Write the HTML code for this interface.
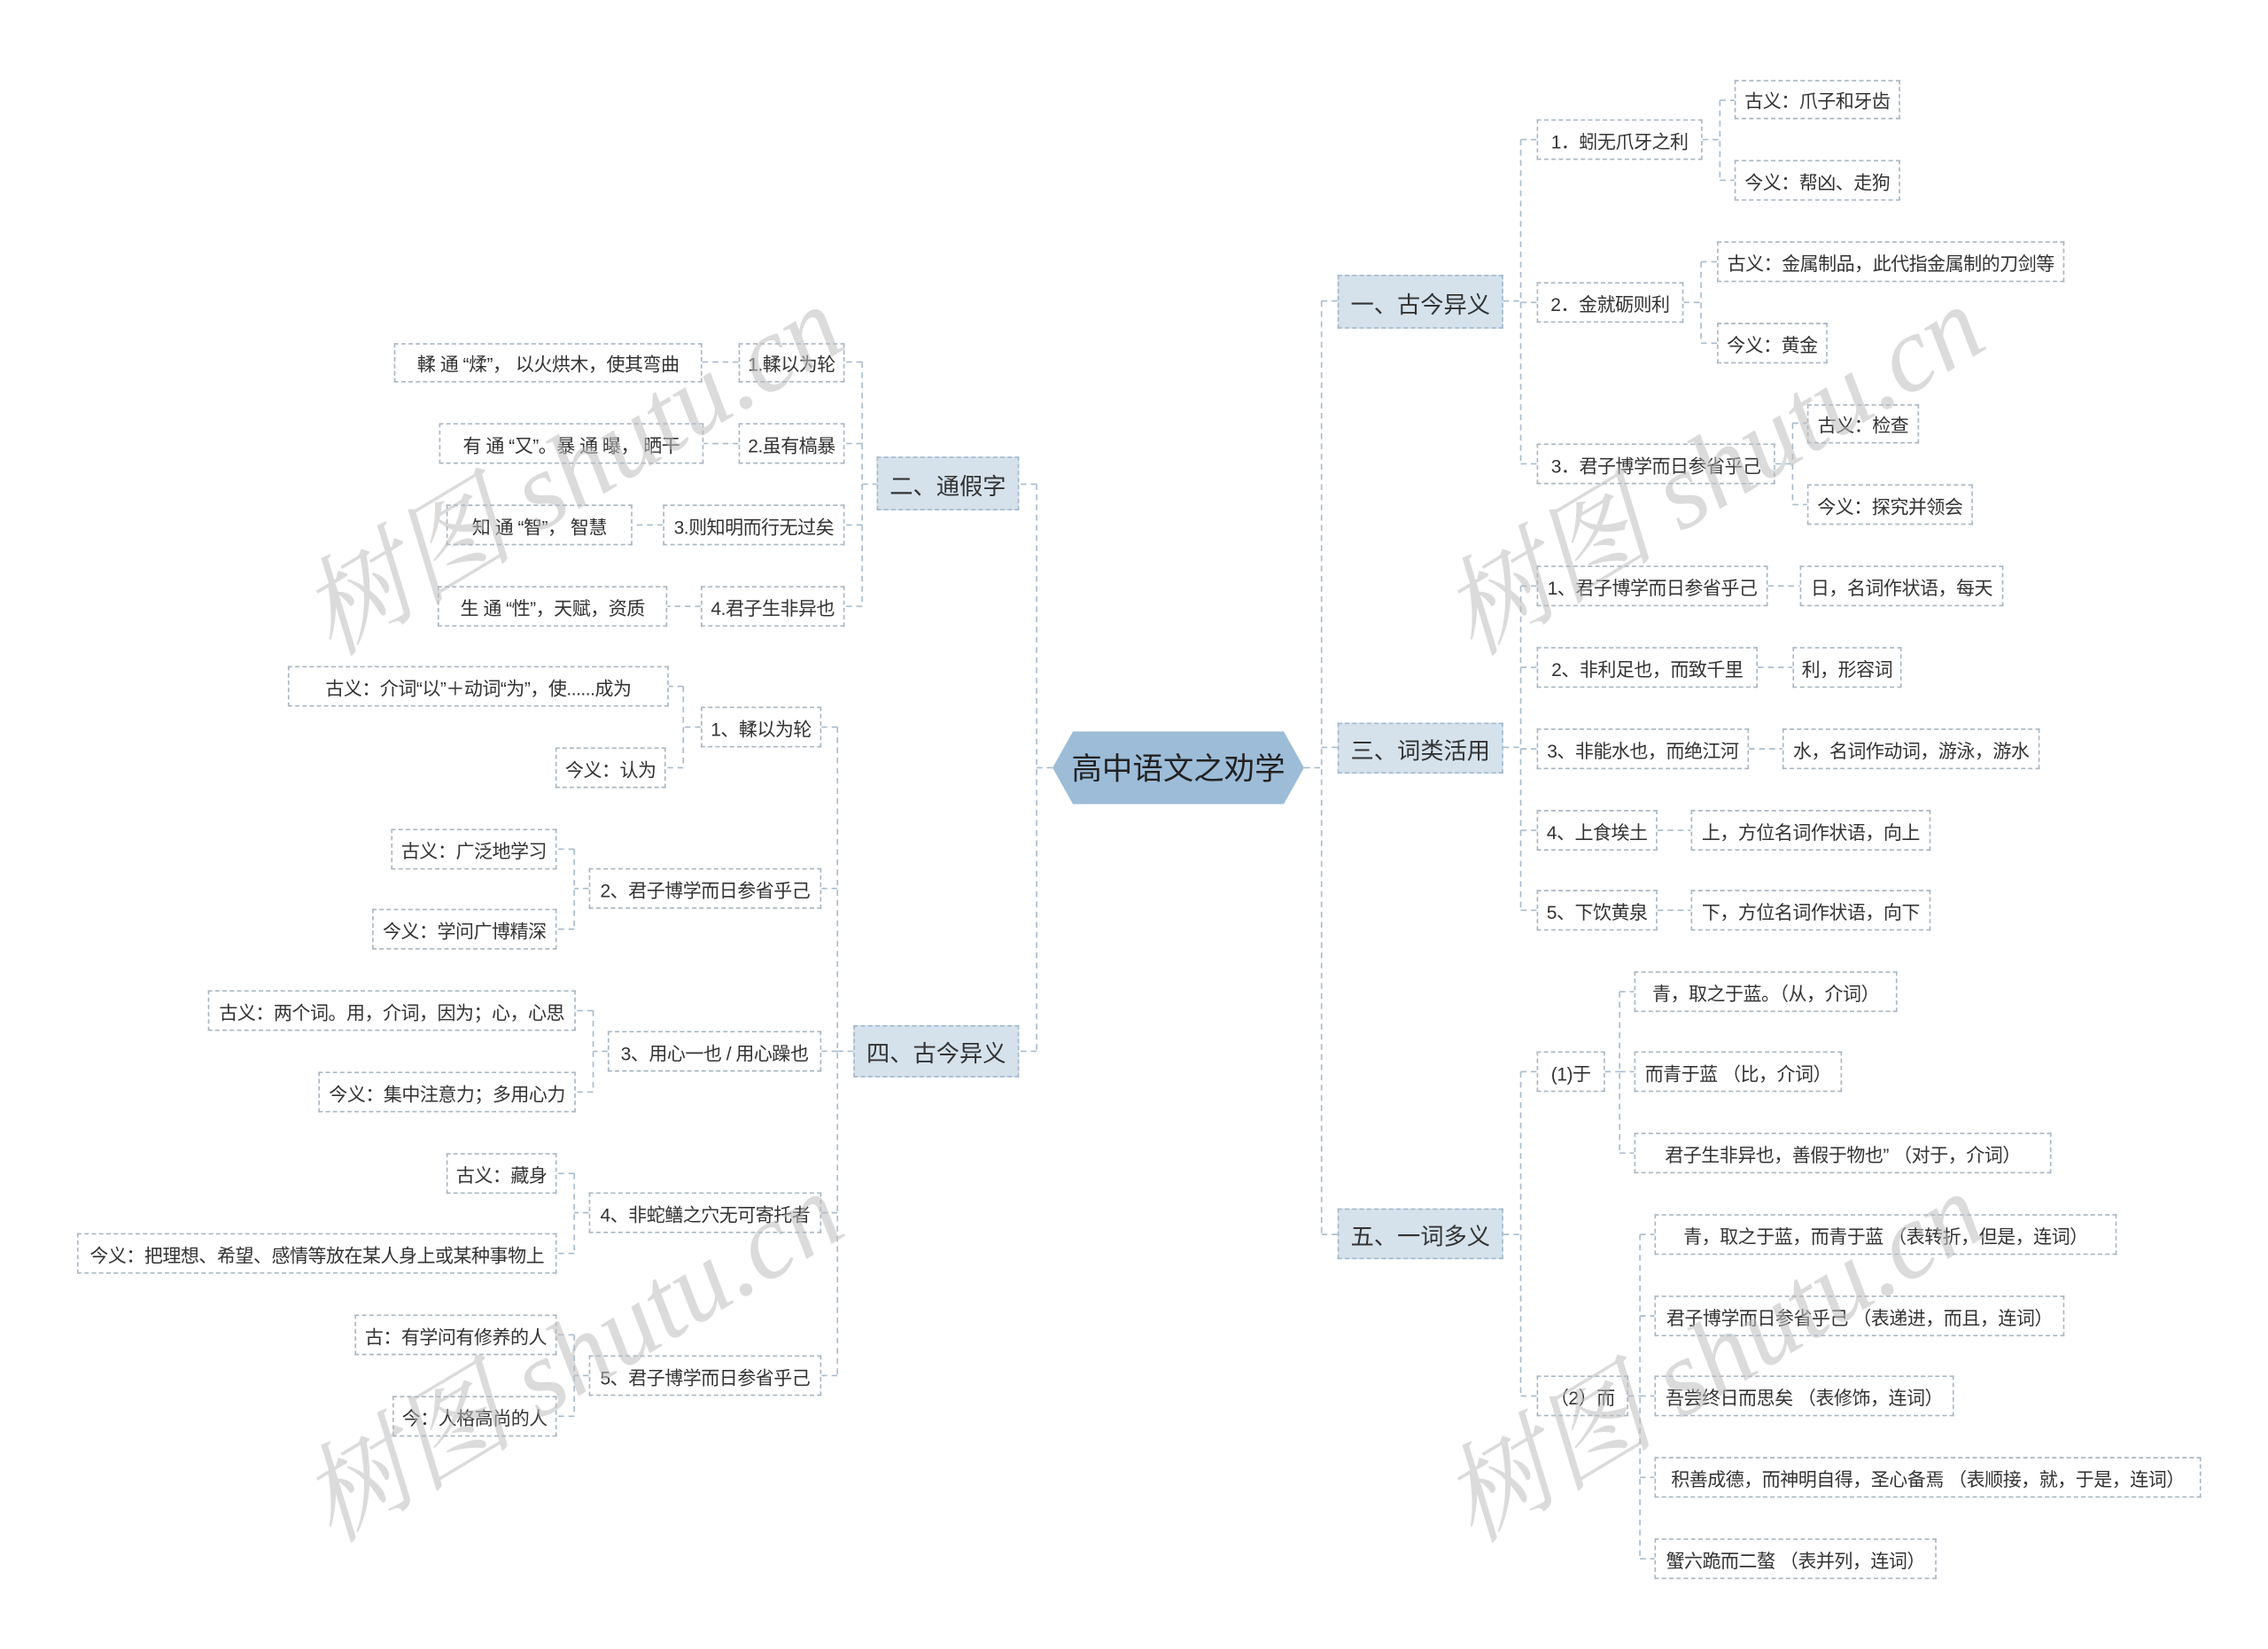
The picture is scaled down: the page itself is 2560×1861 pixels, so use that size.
<!DOCTYPE html>
<html><head><meta charset="utf-8">
<style>
html,body{margin:0;padding:0;background:#fff;}
body{width:2560px;height:1861px;overflow:hidden;position:relative;}
#c{position:absolute;left:0;top:0;width:1560px;height:1134px;transform:scale(1.64103);transform-origin:0 0;}
.n{position:absolute;box-sizing:border-box;border:1px dashed #a9b6c2;background:#fff;font-family:"Liberation Sans","Noto Sans CJK SC",sans-serif;font-size:12.8px;color:#333;display:flex;align-items:center;justify-content:center;white-space:nowrap;letter-spacing:-0.3px;}
.m{position:absolute;box-sizing:border-box;border:1px dashed #a3b9cc;background:#d5e2ec;font-family:"Liberation Sans","Noto Sans CJK SC",sans-serif;font-size:16px;color:#333;display:flex;align-items:center;justify-content:center;white-space:nowrap;}
.wm{position:absolute;font-family:"Liberation Serif","Noto Serif CJK SC",serif;font-style:italic;font-size:74px;color:rgba(190,190,190,0.55);transform:rotate(-31deg);white-space:nowrap;transform-origin:0 0;}
svg{position:absolute;left:0;top:0;}
</style></head><body><div id="c">
<svg width="1560" height="1134" fill="none" stroke="#a7bccf" stroke-width="1" stroke-dasharray="4,3">
<path d="M897 528H909M909 207V849M909 207H920M909 514H920M909 849H920"/>
<path d="M724 528H713M713 333V723M713 333H701M713 723H701"/>
<path d="M1034 207H1046M1046 96V319M1046 96H1057M1046 208H1057M1046 319H1057"/>
<path d="M1171 96H1183M1183 69V124M1183 69H1193M1183 124H1193"/>
<path d="M1158 208H1170M1170 180V236M1170 180H1181M1170 236H1181"/>
<path d="M1221 319H1233M1233 291V347M1233 291H1243M1233 347H1243"/>
<path d="M1034 514H1046M1046 403V626M1046 403H1057M1046 459H1057M1046 515H1057M1046 571H1057M1046 626H1057"/>
<path d="M1216 403H1238M1209 459H1233M1203 515H1226M1140 571H1163M1140 626H1163"/>
<path d="M1034 849H1046M1046 737V960M1046 737H1057M1046 960H1057"/>
<path d="M1104 737H1114M1114 682V793M1114 682H1124M1114 737H1124M1114 793H1124"/>
<path d="M1120 960H1128M1128 849V1072M1128 849H1138M1128 905H1138M1128 960H1138M1128 1016H1138M1128 1072H1138"/>
<path d="M604 333H593M593 249V417M593 249H581M593 305H581M593 361H581M593 417H581"/>
<path d="M508 249H483M508 305H484M456 361H435M482 417H459"/>
<path d="M587 723H576M576 500V946M576 500H565M576 611H565M576 723H565M576 834H565M576 946H565"/>
<path d="M482 500H470M470 472V528M470 472H460M470 528H458"/>
<path d="M405 611H395M395 584V639M395 584H383M395 639H383"/>
<path d="M418 723H408M408 695V751M408 695H396M408 751H396"/>
<path d="M405 834H395M395 807V862M395 807H383M395 862H383"/>
<path d="M405 946H395M395 918V974M395 918H383M395 974H383"/>
</svg>
<svg width="1560" height="1134"><polygon points="724,528 738,503 883,503 897,528 883,553 738,553" fill="#9dbcd8"/>
<text x="810.5" y="536" text-anchor="middle" font-family="Liberation Sans,Noto Sans CJK SC,sans-serif" font-size="21" fill="#222">高中语文之劝学</text></svg>

<div class="m" style="left:920px;top:189px;width:114px;height:37px">一、古今异义</div>
<div class="m" style="left:920px;top:497px;width:114px;height:35px">三、词类活用</div>
<div class="m" style="left:920px;top:831px;width:114px;height:35px">五、一词多义</div>
<div class="m" style="left:603px;top:314px;width:98px;height:37px">二、通假字</div>
<div class="m" style="left:587px;top:705px;width:114px;height:36px">四、古今异义</div>

<div class="n" style="left:1057px;top:82px;width:114px;height:28px">1．蚓无爪牙之利</div>
<div class="n" style="left:1193px;top:55px;width:114px;height:27px">古义：爪子和牙齿</div>
<div class="n" style="left:1193px;top:110px;width:114px;height:28px">今义：帮凶、走狗</div>
<div class="n" style="left:1057px;top:194px;width:101px;height:28px">2．金就砺则利</div>
<div class="n" style="left:1181px;top:166px;width:239px;height:28px">古义：金属制品，此代指金属制的刀剑等</div>
<div class="n" style="left:1181px;top:222px;width:76px;height:28px">今义：黄金</div>
<div class="n" style="left:1057px;top:305px;width:164px;height:28px">3．君子博学而日参省乎己</div>
<div class="n" style="left:1243px;top:278px;width:77px;height:27px">古义：检查</div>
<div class="n" style="left:1243px;top:333px;width:114px;height:28px">今义：探究并领会</div>

<div class="n" style="left:1057px;top:389px;width:159px;height:28px">1、君子博学而日参省乎己</div>
<div class="n" style="left:1238px;top:389px;width:140px;height:28px">日，名词作状语，每天</div>
<div class="n" style="left:1057px;top:445px;width:152px;height:28px">2、非利足也，而致千里</div>
<div class="n" style="left:1233px;top:445px;width:75px;height:28px">利，形容词</div>
<div class="n" style="left:1057px;top:501px;width:146px;height:28px">3、非能水也，而绝江河</div>
<div class="n" style="left:1226px;top:501px;width:177px;height:28px">水，名词作动词，游泳，游水</div>
<div class="n" style="left:1057px;top:557px;width:83px;height:28px">4、上食埃土</div>
<div class="n" style="left:1163px;top:557px;width:165px;height:28px">上，方位名词作状语，向上</div>
<div class="n" style="left:1057px;top:612px;width:83px;height:28px">5、下饮黄泉</div>
<div class="n" style="left:1163px;top:612px;width:165px;height:28px">下，方位名词作状语，向下</div>

<div class="n" style="left:1057px;top:723px;width:47px;height:28px">(1)于</div>
<div class="n" style="left:1124px;top:668px;width:181px;height:28px">青，取之于蓝。（从，介词）</div>
<div class="n" style="left:1124px;top:723px;width:143px;height:28px">而青于蓝 （比，介词）</div>
<div class="n" style="left:1124px;top:779px;width:287px;height:28px">君子生非异也，善假于物也” （对于，介词）</div>
<div class="n" style="left:1057px;top:946px;width:63px;height:28px">（2）而</div>
<div class="n" style="left:1138px;top:835px;width:318px;height:28px">青，取之于蓝，而青于蓝 （表转折，但是，连词）</div>
<div class="n" style="left:1138px;top:891px;width:282px;height:28px">君子博学而日参省乎己 （表递进，而且，连词）</div>
<div class="n" style="left:1138px;top:946px;width:206px;height:28px">吾尝终日而思矣 （表修饰，连词）</div>
<div class="n" style="left:1138px;top:1002px;width:376px;height:28px">积善成德，而神明自得，圣心备焉 （表顺接，就，于是，连词）</div>
<div class="n" style="left:1138px;top:1058px;width:194px;height:28px">蟹六跪而二螯 （表并列，连词）</div>

<div class="n" style="left:508px;top:236px;width:73px;height:27px">1.輮以为轮</div>
<div class="n" style="left:271px;top:236px;width:212px;height:27px">輮 通 “煣”， 以火烘木，使其弯曲</div>
<div class="n" style="left:508px;top:291px;width:73px;height:28px">2.虽有槁暴</div>
<div class="n" style="left:302px;top:291px;width:182px;height:28px">有 通 “又”。暴 通 曝， 晒干</div>
<div class="n" style="left:456px;top:347px;width:125px;height:28px">3.则知明而行无过矣</div>
<div class="n" style="left:307px;top:347px;width:128px;height:28px">知 通 “智”， 智慧</div>
<div class="n" style="left:482px;top:403px;width:99px;height:28px">4.君子生非异也</div>
<div class="n" style="left:301px;top:403px;width:158px;height:28px">生 通 “性”，天赋，资质</div>

<div class="n" style="left:482px;top:486px;width:83px;height:28px">1、輮以为轮</div>
<div class="n" style="left:198px;top:458px;width:262px;height:28px">古义：介词“以”＋动词“为”，使......成为</div>
<div class="n" style="left:382px;top:514px;width:76px;height:28px">今义：认为</div>
<div class="n" style="left:405px;top:597px;width:160px;height:28px">2、君子博学而日参省乎己</div>
<div class="n" style="left:269px;top:570px;width:114px;height:28px">古义：广泛地学习</div>
<div class="n" style="left:256px;top:625px;width:127px;height:28px">今义：学问广博精深</div>
<div class="n" style="left:418px;top:709px;width:147px;height:28px">3、用心一也 / 用心躁也</div>
<div class="n" style="left:143px;top:681px;width:253px;height:28px">古义：两个词。用，介词，因为；心，心思</div>
<div class="n" style="left:219px;top:737px;width:177px;height:28px">今义：集中注意力；多用心力</div>
<div class="n" style="left:405px;top:820px;width:160px;height:28px">4、非蛇鳝之穴无可寄托者</div>
<div class="n" style="left:307px;top:793px;width:76px;height:28px">古义：藏身</div>
<div class="n" style="left:53px;top:848px;width:330px;height:28px">今义：把理想、希望、感情等放在某人身上或某种事物上</div>
<div class="n" style="left:405px;top:932px;width:160px;height:28px">5、君子博学而日参省乎己</div>
<div class="n" style="left:244px;top:904px;width:139px;height:28px">古：有学问有修养的人</div>
<div class="n" style="left:270px;top:960px;width:113px;height:28px">今：人格高尚的人</div>

<div class="wm" style="left:185px;top:380px">树图 shutu.cn</div>
<div class="wm" style="left:970px;top:380px">树图 shutu.cn</div>
<div class="wm" style="left:185px;top:990px">树图 shutu.cn</div>
<div class="wm" style="left:970px;top:990px">树图 shutu.cn</div>
</div></body></html>
